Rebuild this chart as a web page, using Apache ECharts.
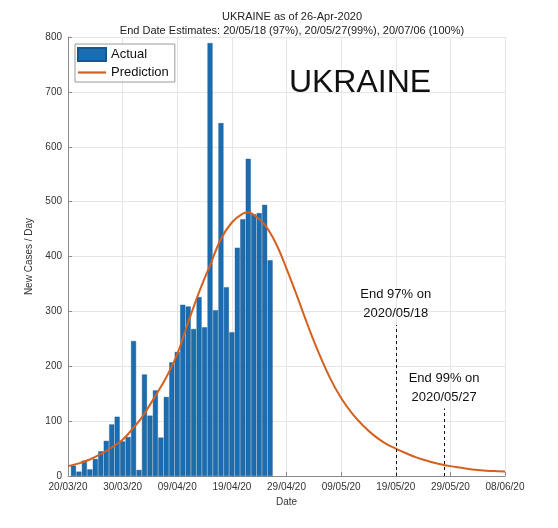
<!DOCTYPE html>
<html>
<head>
<meta charset="utf-8">
<script src="https://cdn.jsdelivr.net/npm/echarts@6/dist/echarts.min.js"></script>
<style>
html,body{margin:0;padding:0;background:#fff;}
#c{width:558px;height:528px;}
</style>
</head>
<body>
<div id="c"></div>
<script>
// Day index 0 = 20/03/20
const xTickLabels = ['20/03/20','30/03/20','09/04/20','19/04/20','29/04/20','09/05/20','19/05/20','29/05/20','08/06/20'];
const actualDays = [1,2,3,4,5,6,7,8,9,10,11,12,13,14,15,16,17,18,19,20,21,22,23,24,25,26,27,28,29,30,31,32,33,34,35,36,37];
const actualValues = [19,8,28,12,31,45,64,94,108,63,71,246,11,185,110,156,70,144,207,226,312,309,268,326,271,789,302,643,344,262,416,468,578,477,479,494,393];
const predDays = [0,2,4,6,8,10,12,13,14,16,18,20,22,24,26,28,30,32,33,34,36,38,40,42,44,46,48,50,52,54,56,58,60,62,64,66,68,70,72,74,76,78,80];
const predValues = [18,23,30,40,52,66,88,100,114,146,180,222,280,335,384,432,462,478,480,476,458,425,378,326,272,222,178,142,114,92,74,60,50,41,33,27,22,18,15,12,10,9,8];
const endMarks = [
  {day: 60, top: 275, text: 'End 97% on\n2020/05/18'},
  {day: 68.85, top: 123, text: 'End 99% on\n2020/05/27'}
];

const FONT = '"Liberation Sans", Arial, Helvetica, sans-serif';
const chart = echarts.init(document.getElementById('c'), null, {renderer: 'canvas'});

chart.setOption({
  animation: false,
  backgroundColor: '#ffffff',
  textStyle: {fontFamily: FONT},
  title: [
    {text: 'UKRAINE as of 26-Apr-2020', left: 287, top: 6, textAlign: 'center',
     textStyle: {fontSize: 11, fontWeight: 'normal', color: '#222', fontFamily: FONT}},
    {text: 'End Date Estimates: 20/05/18 (97%), 20/05/27(99%), 20/07/06 (100%)', left: 287, top: 20, textAlign: 'center',
     textStyle: {fontSize: 11, fontWeight: 'normal', color: '#222', fontFamily: FONT}},
    {text: 'UKRAINE', left: 355, top: 62, textAlign: 'center',
     textStyle: {fontSize: 32, fontWeight: 'normal', color: '#111', fontFamily: FONT}}
  ],
  legend: {
    orient: 'vertical', left: 75, top: 44,
    padding: [3, 6, 3, 2], itemGap: 4,
    itemWidth: 28, itemHeight: 13,
    borderColor: '#9a9a9a', borderWidth: 1, backgroundColor: '#fff',
    textStyle: {fontSize: 13, color: '#111', fontFamily: FONT},
    data: [{name: 'Actual', icon: 'rect'}, {name: 'Prediction', icon: 'path://M0,0H28V2.2H0Z'}]
  },
  grid: {left: 68, right: 53, top: 37, bottom: 52, containLabel: false},
  xAxis: {
    type: 'value', min: 0, max: 80, interval: 10,
    name: 'Date', nameLocation: 'middle', nameGap: 18,
    nameTextStyle: {fontSize: 10, color: '#333', fontFamily: FONT},
    axisLine: {show: true, lineStyle: {color: '#8a8a8a', width: 1}},
    axisTick: {show: true, inside: true, length: 4, lineStyle: {color: '#8a8a8a'}},
    axisLabel: {fontSize: 10, color: '#333', margin: 6, fontFamily: FONT,
      formatter: v => xTickLabels[Math.round(v / 10)] || ''},
    splitLine: {show: true, lineStyle: {color: '#e6e6e6', width: 1}}
  },
  yAxis: {
    type: 'value', min: 0, max: 800, interval: 100,
    name: 'New Cases / Day', nameLocation: 'middle', nameGap: 34, nameRotate: 90,
    nameTextStyle: {fontSize: 10, color: '#333', fontFamily: FONT},
    axisLine: {show: true, lineStyle: {color: '#8a8a8a', width: 1}},
    axisTick: {show: true, inside: true, length: 4, lineStyle: {color: '#8a8a8a'}},
    axisLabel: {fontSize: 10, color: '#333', margin: 6, fontFamily: FONT},
    splitLine: {show: true, lineStyle: {color: '#e6e6e6', width: 1}}
  },
  series: [
    {
      name: 'Actual', type: 'bar',
      data: actualDays.map((d, i) => [d, actualValues[i]]),
      barWidth: 5,
      itemStyle: {color: '#1c6cb0', borderColor: '#15588f', borderWidth: 0.4},
      z: 2
    },
    {
      name: 'Prediction', type: 'line',
      data: predDays.map((d, i) => [d, predValues[i]]),
      smooth: 0.4, symbol: 'none',
      lineStyle: {color: '#d5601f', width: 2},
      itemStyle: {color: '#d5601f'},
      z: 3,
      markLine: {
        silent: true, symbol: 'none', animation: false,
        lineStyle: {type: [3, 3], color: '#111', width: 1},
        label: {show: true, position: 'end', distance: 2, fontSize: 13, color: '#111',
          lineHeight: 19, align: 'center', fontFamily: FONT,
          formatter: p => p.data.text},
        data: endMarks.map(m => [
          {coord: [m.day, 0], text: m.text},
          {coord: [m.day, m.top]}
        ])
      }
    }
  ]
});
</script>
</body>
</html>
